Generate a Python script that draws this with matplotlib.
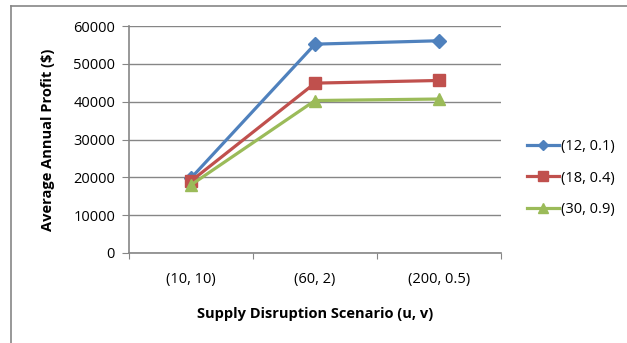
import matplotlib.pyplot as plt
from matplotlib.lines import Line2D

scenarios = ["(10, 10)", "(60, 2)", "(200, 0.5)"]
series_names = ["(12, 0.1)", "(18, 0.4)", "(30, 0.9)"]
profit_12 = [19800, 55200, 56100]
profit_18 = [19000, 44900, 45600]
profit_30 = [18000, 40300, 40700]

colors = ["#4F81BD", "#C0504D", "#9BBB59"]
markers = ["D", "s", "^"]
msizes = [7, 9, 9]

plt.rcParams['font.family'] = ['Open Sans', 'DejaVu Sans']

fig = plt.figure(figsize=(6.27, 3.43), dpi=100)
ax = fig.add_axes([129/627, 1 - 253/343, 372/627, 227/343])

x = list(range(len(scenarios)))
for vals, name, c, m, ms in zip([profit_12, profit_18, profit_30], series_names,
                                colors, markers, msizes):
    ax.plot(x, vals, color=c, lw=2.3, marker=m, markersize=ms, label=name,
            markeredgecolor=c)

ax.set_ylim(0, 60000)
ax.set_yticks(range(0, 60001, 10000))
ax.set_xlim(-0.5, len(scenarios) - 0.5)
ax.set_xticks([i - 0.5 for i in range(len(scenarios) + 1)])
ax.set_xticklabels([])
ax.set_xticks(x, minor=True)
ax.set_xticklabels(scenarios, minor=True)
ax.tick_params(axis='x', which='minor', length=0, pad=14, labelsize=10.5)
ax.tick_params(axis='x', which='major', length=4, color='#868686')
ax.tick_params(axis='y', length=5, color='#868686', labelsize=10.5, pad=5)

ax.grid(axis='y', color='#868686', lw=1)
ax.set_axisbelow(True)
for side in ['top', 'right']:
    ax.spines[side].set_visible(False)
for side in ['left', 'bottom']:
    ax.spines[side].set_color('#868686')
    ax.spines[side].set_linewidth(1.2)

ax.set_ylabel("Average Annual Profit ($)", fontweight='bold', fontsize=10.5, labelpad=13)
ax.set_xlabel("Supply Disruption Scenario (u, v)", fontweight='bold', fontsize=10.5, labelpad=14)

ax.legend(loc='center left', bbox_to_anchor=(1.035, 0.33), frameon=False,
          fontsize=10.5, handlelength=2.2, handletextpad=0.15, labelspacing=1.15,
          markerscale=0.8)

# chart area border
fig.add_artist(Line2D([11/627, 11/627], [0, 1 - 6/343], color='#868686', lw=1.2))
fig.add_artist(Line2D([11/627, 1], [1 - 6/343, 1 - 6/343], color='#868686', lw=1.2))

fig.savefig("out.png", dpi=100)
